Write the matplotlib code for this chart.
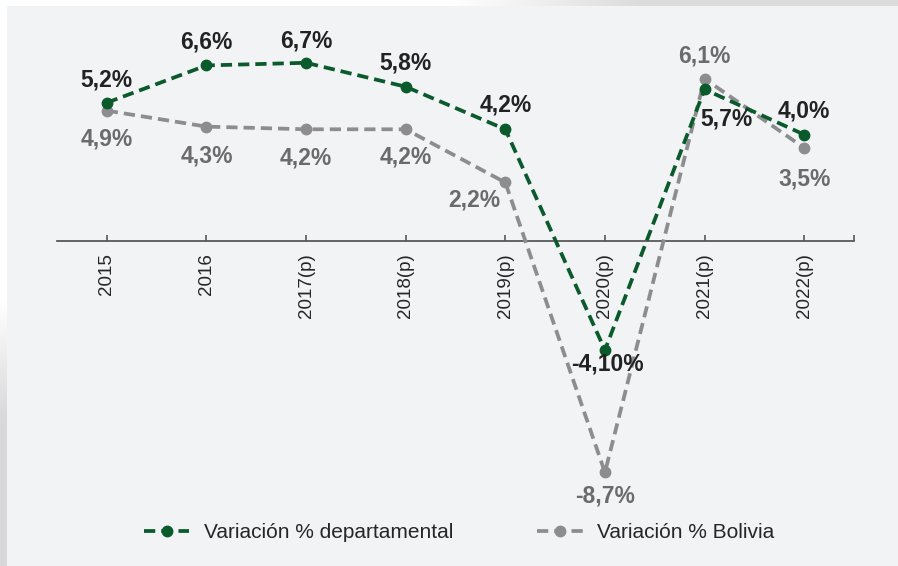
import numpy as np
import matplotlib
matplotlib.use("Agg")
import matplotlib.pyplot as plt

categories = ["2015", "2016", "2017(p)", "2018(p)", "2019(p)", "2020(p)", "2021(p)", "2022(p)"]
dept_values = [5.2, 6.6, 6.7, 5.8, 4.2, -4.1, 5.7, 4.0]
bol_values = [4.9, 4.3, 4.2, 4.2, 2.2, -8.7, 6.1, 3.5]
dept_labels = ["5,2%", "6,6%", "6,7%", "5,8%", "4,2%", "-4,10%", "5,7%", "4,0%"]
bol_labels = ["4,9%", "4,3%", "4,2%", "4,2%", "2,2%", "-8,7%", "6,1%", "3,5%"]
series_names = ["Variación % departamental", "Variación % Bolivia"]

plt.rcParams['font.family'] = ['Liberation Sans', 'DejaVu Sans']

W, H = 898, 566
fig = plt.figure(figsize=(W / 100, H / 100), dpi=100, facecolor="white")

# background panel
bg = fig.add_axes([0, 0, 1, 1], zorder=-10)
img = np.ones((H, W, 3))
panel = np.array([0xf2, 0xf3, 0xf5]) / 255.0
img[6:, 7:, :] = panel
xs = np.arange(W)
t = np.clip((xs - 450) / 190.0, 0, 1)
top_col = 1 - t[:, None] * (1 - np.array([0xdc, 0xdc, 0xdc]) / 255.0)
img[:6, :, :] = top_col[None, :, :]
ys = np.arange(H)
tl = np.clip((ys - 300) / 120.0, 0, 1)
left_col = 1 - tl[:, None] * (1 - np.array([0xd8, 0xd8, 0xda]) / 255.0)
img[:, :7, :] = left_col[:, None, :]
img[:6, :7, :] = 1.0
bg.imshow(img, aspect="auto", extent=(0, 1, 0, 1), interpolation="nearest")
bg.axis("off")

ax = fig.add_axes([57 / W, (H - 493.7) / H, 797 / W, (493.7 - 28.2) / H])
ax.set_facecolor("none")
x = np.arange(len(categories))
green = "#0a5a2c"
grey = "#8d8d8f"

l2, = ax.plot(x, bol_values, color=grey, lw=2.7, ls=(0, (3, 1.6)), marker="o",
              markersize=7.5, zorder=3, label=series_names[1], dash_capstyle="butt")
l1, = ax.plot(x, dept_values, color=green, lw=2.7, ls=(0, (3, 1.6)), marker="o",
              markersize=7.5, zorder=4, label=series_names[0], dash_capstyle="butt")

ax.set_xlim(-0.5, 7.5)
ax.set_ylim(-9.5, 8)
for s in ["top", "right", "left"]:
    ax.spines[s].set_visible(False)
ax.spines["bottom"].set_position(("data", 0))
ax.spines["bottom"].set_color("#595959")
ax.spines["bottom"].set_linewidth(1.3)
ax.set_yticks([])
ax.set_xticks(x)
ax.set_xticklabels(categories, rotation=90, fontsize=13.5, color="#262626")
ax.set_xticks([7.5], minor=True)
ax.tick_params(axis="x", which="both", direction="in", length=4, width=1.2,
               color="#595959", pad=9)
for lbl in ax.get_xticklabels():
    lbl.set_va("top")

dept_off = [(0, 23), (0, 23), (0, 22), (0, 24), (0, 24), (3, -14), (22, -30), (0, 24)]
bol_off = [(0, -28), (0, -29), (0, -29), (0, -28), (-31, -18), (0, -24), (0, 23), (0, -31)]
for i in range(len(x)):
    ax.annotate(dept_labels[i], (x[i], dept_values[i]), xytext=dept_off[i],
                textcoords="offset pixels", ha="center", va="center",
                fontsize=16.5, fontweight="bold", color="#222222", zorder=6)
    ax.annotate(bol_labels[i], (x[i], bol_values[i]), xytext=bol_off[i],
                textcoords="offset pixels", ha="center", va="center",
                fontsize=16.5, fontweight="bold", color="#6b6b6d", zorder=6)

fig.legend(handles=[l1, l2], loc="center", bbox_to_anchor=(459 / W, 1 - 533 / H),
           ncol=2, frameon=False, fontsize=15, handlelength=2.2, handletextpad=0.7,
           columnspacing=4.0, labelcolor="#262626")

fig.savefig("out.png", dpi=100, facecolor="white")
